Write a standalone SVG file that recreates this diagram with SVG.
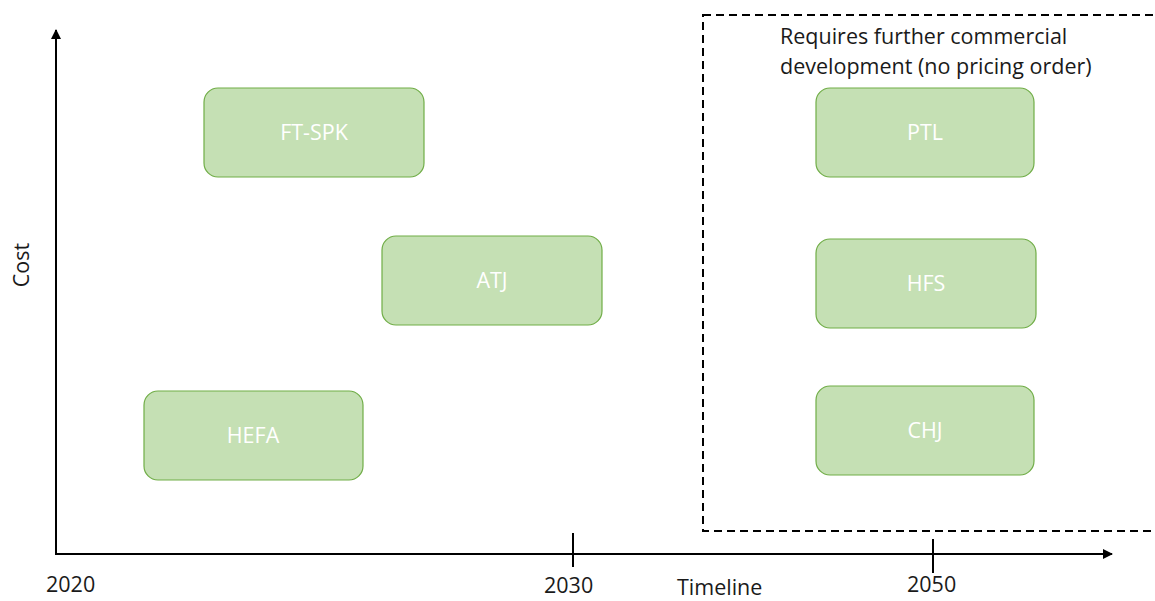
<svg xmlns="http://www.w3.org/2000/svg" width="1155" height="601" viewBox="0 0 1155 601">
<style>
.box rect{fill:#C5E0B4;stroke:#70AD47;stroke-width:1.2}
.box text{fill:#ffffff;font-family:"Open Sans","Liberation Sans",sans-serif;font-size:21.5px;text-anchor:middle}
.lbl{fill:#1a1a1a;font-family:"Open Sans","Liberation Sans",sans-serif;font-size:21.5px}
.ax{stroke:#000;stroke-width:2;fill:none}
</style>
<defs>
<marker id="ah" viewBox="0 0 10 10" refX="9" refY="5" markerWidth="5" markerHeight="5" orient="auto" markerUnits="strokeWidth">
<path d="M0,0 L10,5 L0,10 z" fill="#000"/>
</marker>
</defs>
<g id="connectors">
<line class="ax" x1="56" y1="555" x2="56" y2="30" marker-end="url(#ah)"/>
<line class="ax" x1="55" y1="554" x2="1112" y2="554" marker-end="url(#ah)"/>
<line class="ax" x1="573" y1="533" x2="573" y2="567"/>
<line class="ax" x1="933" y1="539" x2="933" y2="573"/>
</g>
<g id="region">
<rect x="703" y="15" width="460" height="516" fill="none" stroke="#000" stroke-width="2" stroke-dasharray="8,5"/>
<text class="lbl" x="780" y="44">Requires further commercial</text>
<text class="lbl" x="780" y="74">development (no pricing order)</text>
</g>
<g id="ftspk" class="box"><rect x="204" y="88" width="220" height="89" rx="14"/><text x="314" y="140">FT-SPK</text></g>
<g id="atj" class="box"><rect x="382" y="236" width="220" height="89" rx="14"/><text x="492" y="288">ATJ</text></g>
<g id="hefa" class="box"><rect x="144" y="391" width="219" height="89" rx="14"/><text x="253" y="443">HEFA</text></g>
<g id="ptl" class="box"><rect x="816" y="88" width="218" height="89" rx="14"/><text x="925" y="140">PTL</text></g>
<g id="hfs" class="box"><rect x="816" y="239" width="220" height="89" rx="14"/><text x="926" y="291">HFS</text></g>
<g id="chj" class="box"><rect x="816" y="386" width="218" height="89" rx="14"/><text x="925" y="438">CHJ</text></g>
<g id="labels">
<text class="lbl" x="46" y="592">2020</text>
<text class="lbl" x="544" y="593">2030</text>
<text class="lbl" x="677" y="595">Timeline</text>
<text class="lbl" x="907" y="592">2050</text>
<text class="lbl" transform="translate(29,265) rotate(-90)" text-anchor="middle">Cost</text>
</g>
</svg>
